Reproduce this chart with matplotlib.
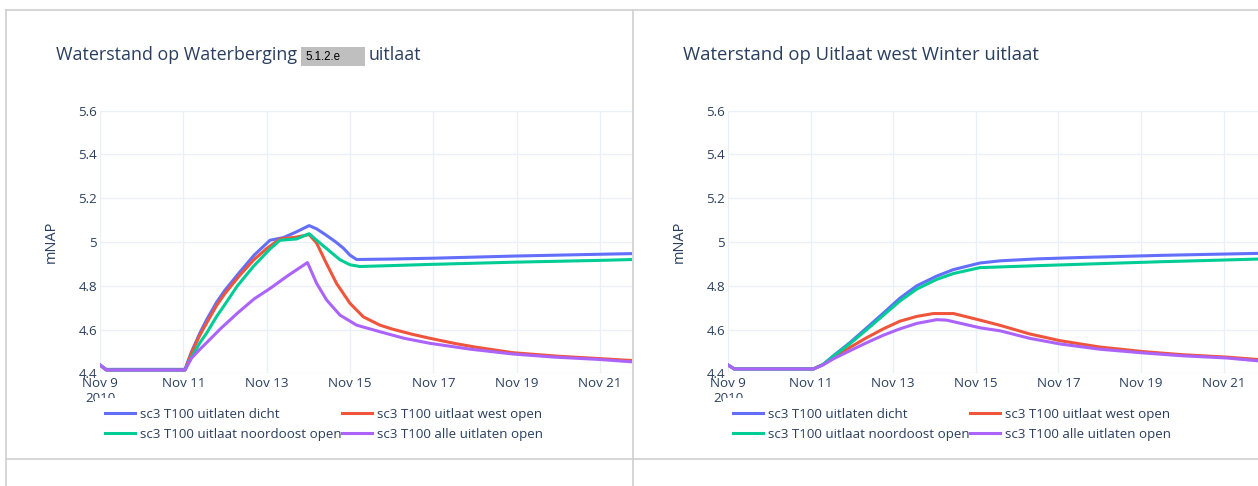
import pandas as pd
import matplotlib
matplotlib.use('Agg')
import matplotlib.pyplot as plt
from matplotlib.lines import Line2D
from matplotlib.patches import Rectangle

plt.rcParams['font.family'] = ['Open Sans', 'DejaVu Sans']

W, H = 1258, 486
TXT = '#2a3f5f'
GRID = '#ebf0f8'

start = pd.Timestamp('2010-11-09')

names = ['sc3 T100 uitlaten dicht', 'sc3 T100 uitlaat west open',
         'sc3 T100 uitlaat noordoost open', 'sc3 T100 alle uitlaten open']
colors = ['#636efa', '#EF553B', '#00cc96', '#ab63fa']

# --- left panel: Waterberging uitlaat (days since Nov 9 2010, mNAP) ---
left_dicht_days = [0, 0.15, 1.0, 2.04, 2.2, 2.4, 2.56, 2.8, 3.0, 3.36, 3.7, 4.08, 4.4, 4.7,
                   5.02, 5.2, 5.4, 5.64, 5.84, 6.0, 6.16, 6.96, 8.0, 9.0, 10.0, 11.0, 12.0, 12.8]
left_dicht = [4.438, 4.418, 4.418, 4.418, 4.50, 4.585, 4.645, 4.725, 4.78, 4.864, 4.94, 5.008, 5.02, 5.045,
              5.075, 5.06, 5.035, 5.003, 4.972, 4.94, 4.92, 4.922, 4.926, 4.931, 4.936, 4.94, 4.944, 4.947]

left_west_days = [0, 0.15, 2.04, 2.2, 2.4, 2.56, 2.8, 3.0, 3.36, 3.7, 4.0, 4.32, 4.7, 5.02, 5.2,
                  5.44, 5.68, 6.0, 6.32, 6.72, 7.0, 7.5, 7.92, 8.5, 9.0, 9.92, 11.0, 11.92, 12.8]
left_west = [4.438, 4.415, 4.415, 4.495, 4.575, 4.63, 4.71, 4.765, 4.849, 4.92, 4.97, 5.014, 5.022, 5.034, 4.995,
             4.90, 4.81, 4.72, 4.658, 4.62, 4.603, 4.578, 4.56, 4.537, 4.52, 4.494, 4.478, 4.468, 4.458]

left_noordoost_days = [0, 0.15, 2.04, 2.2, 2.4, 2.56, 2.8, 2.96, 3.3, 3.68, 4.08, 4.32, 4.72, 5.02,
                       5.28, 5.52, 5.76, 6.0, 6.24, 6.96, 8.0, 10.0, 12.0, 12.8]
left_noordoost = [4.438, 4.415, 4.415, 4.475, 4.54, 4.584, 4.66, 4.704, 4.80, 4.888, 4.968, 5.008, 5.014, 5.038,
                  4.995, 4.957, 4.919, 4.896, 4.888, 4.892, 4.898, 4.908, 4.916, 4.92]

left_alle_days = [0, 0.15, 2.04, 2.2, 2.4, 2.56, 2.9, 3.3, 3.7, 4.1, 4.5, 4.98, 5.2, 5.44, 5.76,
                  6.16, 6.72, 7.3, 7.92, 8.9, 9.92, 10.9, 11.92, 12.8]
left_alle = [4.438, 4.415, 4.415, 4.47, 4.51, 4.54, 4.605, 4.675, 4.74, 4.79, 4.845, 4.906, 4.811, 4.735, 4.666,
             4.62, 4.59, 4.56, 4.537, 4.51, 4.488, 4.474, 4.464, 4.452]

# --- right panel: Uitlaat west Winter uitlaat ---
right_dicht_days = [0, 0.15, 2.07, 2.3, 2.55, 2.95, 3.36, 3.76, 4.16, 4.57, 5.05, 5.46, 6.1, 6.59,
                    7.5, 8.5, 9.5, 10.5, 11.5, 12.83]
right_dicht = [4.438, 4.42, 4.42, 4.44, 4.48, 4.54, 4.608, 4.675, 4.743, 4.80, 4.844, 4.874, 4.904, 4.914,
               4.923, 4.929, 4.934, 4.939, 4.943, 4.948]

right_west_days = [0, 0.15, 2.07, 2.3, 2.55, 2.95, 3.36, 3.76, 4.16, 4.57, 4.97, 5.46, 6.1, 6.59,
                   7.3, 8.04, 9.0, 10.06, 11.0, 12.07, 12.83]
right_west = [4.438, 4.42, 4.42, 4.44, 4.473, 4.518, 4.563, 4.603, 4.638, 4.66, 4.673, 4.673, 4.643, 4.619,
              4.58, 4.549, 4.52, 4.499, 4.485, 4.474, 4.463]

right_noordoost_days = [0, 0.15, 2.07, 2.3, 2.55, 2.95, 3.36, 3.76, 4.16, 4.57, 5.05, 5.46, 6.1, 6.59,
                        7.5, 8.5, 9.5, 10.5, 11.5, 12.83]
right_noordoost = [4.438, 4.42, 4.42, 4.44, 4.478, 4.535, 4.60, 4.665, 4.73, 4.785, 4.829, 4.856, 4.883, 4.886,
                   4.892, 4.898, 4.904, 4.91, 4.915, 4.922]

right_alle_days = [0, 0.15, 2.07, 2.3, 2.55, 2.95, 3.36, 3.76, 4.16, 4.57, 5.05, 5.29, 6.1, 6.59,
                   7.3, 8.04, 9.0, 10.06, 11.0, 12.07, 12.83]
right_alle = [4.438, 4.42, 4.42, 4.438, 4.466, 4.503, 4.54, 4.574, 4.603, 4.628, 4.645, 4.643, 4.608, 4.594,
              4.56, 4.534, 4.51, 4.493, 4.48, 4.47, 4.457]

y_ticks = [4.4, 4.6, 4.8, 5.0, 5.2, 5.4, 5.6]
y_labels = ['4.4', '4.6', '4.8', '5', '5.2', '5.4', '5.6']
x_ticks = pd.date_range('2010-11-09', periods=7, freq='2D')
x_labels = ['Nov 9\n2010', 'Nov 11', 'Nov 13', 'Nov 15', 'Nov 17', 'Nov 19', 'Nov 21']


def to_dates(days):
    return start + pd.to_timedelta(days, unit='D')


fig = plt.figure(figsize=(W / 100, H / 100), dpi=100)


def panel(left_px, right_px, xmax_days, series):
    ax = fig.add_axes([left_px / W, 1 - 373.3 / H, (right_px - left_px) / W, 262.6 / H])
    lines = []
    for (days, vals), name, col in zip(series, names, colors):
        ln, = ax.plot(to_dates(days), vals, color=col, lw=2.2, label=name,
                      solid_joinstyle='round')
        lines.append(ln)
    ax.set_xlim(start, start + pd.Timedelta(days=xmax_days))
    ax.set_ylim(4.4, 5.6)
    ax.set_yticks(y_ticks)
    ax.set_yticklabels(y_labels)
    ax.set_xticks(x_ticks)
    ax.set_xticklabels(x_labels, linespacing=1.2)
    ax.tick_params(length=0, labelsize=9.6, labelcolor=TXT)
    ax.tick_params(axis='y', pad=2)
    ax.tick_params(axis='x', pad=3)
    ax.grid(True, color=GRID, lw=1)
    ax.set_axisbelow(True)
    for s in ax.spines.values():
        s.set_visible(False)
    ax.set_ylabel('mNAP', fontsize=10.5, color=TXT)
    ax.yaxis.set_label_coords(-41 / (right_px - left_px), 0.5)
    # plotly fills the legend row by row: reorder for matplotlib's column fill
    order = [0, 2, 1, 3]
    leg = ax.legend([lines[i] for i in order], [names[i] for i in order],
                    ncol=2, loc='upper left',
                    bbox_to_anchor=((left_px - 5) / W, 1 - 398 / H),
                    bbox_transform=fig.transFigure,
                    fontsize=9.6, frameon=True, facecolor='white', edgecolor='none',
                    fancybox=False, framealpha=1, borderpad=0.75, borderaxespad=0,
                    handlelength=2.25, handletextpad=0.38, columnspacing=0.0,
                    labelspacing=0.5, labelcolor=TXT)
    leg.set_zorder(10)
    for h in leg.legend_handles:
        h.set_linewidth(2.2)
    return ax


panel(100, 632, 12.77, [(left_dicht_days, left_dicht), (left_west_days, left_west),
                        (left_noordoost_days, left_noordoost), (left_alle_days, left_alle)])
panel(728, 1258, 12.83, [(right_dicht_days, right_dicht), (right_west_days, right_west),
                         (right_noordoost_days, right_noordoost), (right_alle_days, right_alle)])

# titles
renderer = fig.canvas.get_renderer()
t1 = fig.text(56 / W, 1 - 60.5 / H, 'Waterstand op Waterberging', fontsize=12.9,
              color=TXT, va='baseline', ha='left')
x_end = t1.get_window_extent(renderer).x1
box_left = x_end + 4
fig.add_artist(Rectangle((box_left / W, 1 - 65.7 / H), 64 / W, 19 / H,
                         transform=fig.transFigure, facecolor='#bfbfbf', edgecolor='none'))
fig.text((box_left + 4) / W, 1 - 56.5 / H, '5.1.2.e', fontsize=8.3, color='black',
         va='center', ha='left', family='Liberation Sans')
fig.text((box_left + 68) / W, 1 - 60.5 / H, 'uitlaat', fontsize=12.9,
         color=TXT, va='baseline', ha='left')
fig.text(683 / W, 1 - 60.5 / H, 'Waterstand op Uitlaat west Winter uitlaat', fontsize=13.3,
         color=TXT, va='baseline', ha='left')

# dashboard panel borders
border = '#cfcfcf'
for xs, ys in [((6, W), (10, 10)), ((6, 6), (10, H)), ((633, 633), (10, H)), ((6, W), (459, 459))]:
    fig.add_artist(Line2D([x / W for x in xs], [1 - y / H for y in ys],
                          transform=fig.transFigure, color=border, lw=1.2))

fig.savefig('out.png', dpi=100)
